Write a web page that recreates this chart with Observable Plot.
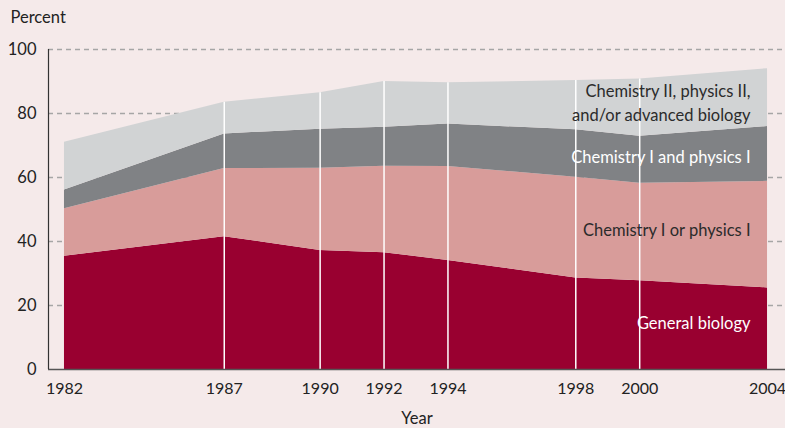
<!DOCTYPE html>
<html><head><meta charset="utf-8">
<script src="https://cdn.jsdelivr.net/npm/d3@7"></script>
<script src="https://cdn.jsdelivr.net/npm/@observablehq/plot@0.6"></script>
<style>
html,body{margin:0;padding:0;background:#f5eaea;}
#chart svg{display:block;}
</style></head><body><div id="chart"></div>
<script>
const years = [1982, 1987, 1990, 1992, 1994, 1998, 2000, 2004];
const series = ["General biology", "Chemistry I or physics I", "Chemistry I and physics I", "Chemistry II, physics II, and/or advanced biology"];
const generalBiology = [35.4, 41.5, 37.2, 36.5, 34.1, 28.6, 27.7, 25.5];
const chemOrPhys = [14.8, 21.3, 25.7, 27.0, 29.3, 31.5, 30.5, 33.3];
const chemAndPhys = [5.9, 10.8, 12.2, 12.2, 13.3, 14.8, 14.7, 17.1];
const advanced = [14.9, 9.9, 11.4, 14.3, 12.9, 15.4, 17.9, 18.1];
const colors = ["#990030", "#d89c9a", "#808285", "#d1d3d4"];
const yTicks = [0, 20, 40, 60, 80, 100];
const labelLines = ["General biology", "Chemistry I or physics I", "Chemistry I and physics I", "Chemistry II, physics II,\nand/or advanced biology"];
const labelFill = ["white", "#2b2b2b", "white", "#2b2b2b"];
const labelDy = [-7, -6, 2, 4];

const values = [generalBiology, chemOrPhys, chemAndPhys, advanced];
const data = [];
series.forEach((s, i) => years.forEach((y, j) => data.push({year: y, series: s, value: values[i][j]})));
const totals = years.map((_, j) => values.reduce((a, v) => a + v[j], 0));
const last = years.length - 1;
const labels = series.map((s, i) => {
  const base = values.slice(0, i).reduce((a, v) => a + v[last], 0);
  return {text: labelLines[i], y: base + values[i][last] / 2, fill: labelFill[i], dy: labelDy[i]};
});
const xDomain = [1981.5, 2004.5625];
const fs = 16.5;
const tfs = 16;

const chart = Plot.plot({
  width: 785, height: 428,
  marginLeft: 48, marginRight: 0, marginTop: 49, marginBottom: 59,
  style: {background: "transparent", fontFamily: "Lato, sans-serif", fontSize: fs + "px", color: "#222"},
  x: {domain: xDomain},
  y: {domain: [0, 100]},
  color: {domain: series, range: colors},
  marks: [
    Plot.ruleY(yTicks.filter(d => d > 0), {stroke: "#a6a6a6", strokeWidth: 1.5, strokeDasharray: "5,4"}),
    Plot.areaY(data, {x: "year", y: "value", fill: "series", order: series}),
    Plot.ruleX(years.slice(1, -1), {x: d => d, y1: 0, y2: (d) => totals[years.indexOf(d)], stroke: "white", strokeWidth: 1.5}),
    Plot.ruleY([0], {stroke: "#555", strokeWidth: 1.5}),
    Plot.ruleX([xDomain[0]], {y1: 0, y2: 100, stroke: "#333", strokeWidth: 1.2}),
    Plot.axisY({ticks: yTicks, tickSize: 0, tickPadding: 12, label: null, fontSize: fs}),
    Plot.axisX({ticks: years, tickFormat: d => String(d), tickSize: 0, tickPadding: 13, label: null, fontSize: tfs}),
    ...labels.map(l => Plot.text([l], {x: () => years[last], y: "y", text: "text", textAnchor: "end", dx: -17, dy: l.dy, fill: l.fill, fontSize: fs, lineHeight: 1.42})),
    Plot.text(["Year"], {frameAnchor: "bottom", lineAnchor: "middle", dy: 49, text: d => d, fontSize: fs, fill: "#222"}),
    Plot.text(["Percent"], {frameAnchor: "top-left", lineAnchor: "middle", dx: -38, dy: -32, textAnchor: "start", text: d => d, fontSize: fs, fill: "#222"})
  ]
});
document.getElementById("chart").appendChild(chart);
</script></body></html>
